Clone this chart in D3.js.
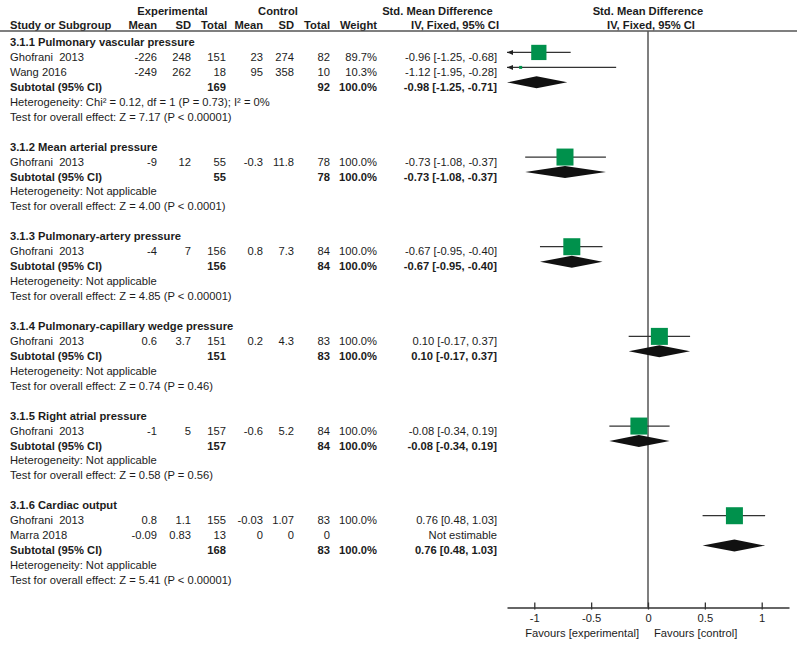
<!DOCTYPE html>
<html><head><meta charset="utf-8">
<script src="https://cdn.jsdelivr.net/npm/d3@7"></script>
<style>body{margin:0;background:#fff}svg{display:block;font-family:"Liberation Sans",Arial,sans-serif}text{white-space:pre}</style>
</head><body><svg id="c" width="800" height="645"></svg>
<script>
const groupNames = ["3.1.1 Pulmonary vascular pressure","3.1.2 Mean arterial pressure","3.1.3 Pulmonary-artery pressure","3.1.4 Pulmonary-capillary wedge pressure","3.1.5 Right atrial pressure","3.1.6 Cardiac output"];
const studyGroup = [0,0,1,2,3,4,5,5];
const studyNames = ["Ghofrani  2013","Wang 2016","Ghofrani  2013","Ghofrani  2013","Ghofrani  2013","Ghofrani  2013","Ghofrani  2013","Marra 2018"];
const expMean = [-226,-249,-9,-4,0.6,-1,0.8,-0.09];
const expSD = [248,262,12,7,3.7,5,1.1,0.83];
const expTotal = [151,18,55,156,151,157,155,13];
const ctlMean = [23,95,-0.3,0.8,0.2,-0.6,-0.03,0];
const ctlSD = [274,358,11.8,7.3,4.3,5.2,1.07,0];
const ctlTotal = [82,10,78,84,83,84,83,0];
const weight = [89.7,10.3,100,100,100,100,100,null];
const smd = [-0.96,-1.12,-0.73,-0.67,0.10,-0.08,0.76,null];
const ciLow = [-1.25,-1.95,-1.08,-0.95,-0.17,-0.34,0.48,null];
const ciHigh = [-0.68,-0.28,-0.37,-0.40,0.37,0.19,1.03,null];
const subExpTotal = [169,55,156,151,157,168];
const subCtlTotal = [92,78,84,83,84,83];
const subSmd = [-0.98,-0.73,-0.67,0.10,-0.08,0.76];
const subLow = [-1.25,-1.08,-0.95,-0.17,-0.34,0.48];
const subHigh = [-0.71,-0.37,-0.40,0.37,0.19,1.03];
const heterogeneity = ["Heterogeneity: Chi² = 0.12, df = 1 (P = 0.73); I² = 0%","Heterogeneity: Not applicable","Heterogeneity: Not applicable","Heterogeneity: Not applicable","Heterogeneity: Not applicable","Heterogeneity: Not applicable"];
const overallTest = ["Test for overall effect: Z = 7.17 (P < 0.00001)","Test for overall effect: Z = 4.00 (P < 0.0001)","Test for overall effect: Z = 4.85 (P < 0.00001)","Test for overall effect: Z = 0.74 (P = 0.46)","Test for overall effect: Z = 0.58 (P = 0.56)","Test for overall effect: Z = 5.41 (P < 0.00001)"];
const axisTicks = [-1,-0.5,0,0.5,1];
const favourLeft = "Favours [experimental]", favourRight = "Favours [control]";

const svg = d3.select("#c");
const FS = 11.2, TXT = "#1c1c1c", GREEN = "#00914c";
const x = d3.scaleLinear().domain([-1.24,1.24]).range([507,789]);
const y = d3.scaleLinear().domain([0,36]).range([42,580]);
const axisY = 607.5, MOFF = -4.5;

const rows = [];
let r = 0;
groupNames.forEach((g,gi)=>{
  rows.push({type:"group",r:r++,gi});
  studyGroup.forEach((sg,si)=>{ if(sg===gi) rows.push({type:"study",r:r++,si}); });
  rows.push({type:"sub",r:r++,gi});
  rows.push({type:"het",r:r++,gi});
  rows.push({type:"test",r:r++,gi});
  r++;
});

function txt(xp, yp, s, anchor, bold){
  svg.append("text").attr("x",xp).attr("y",yp).attr("text-anchor",anchor||"start")
    .attr("font-size",FS).attr("font-weight",bold?"bold":"normal").attr("fill",TXT).text(s);
}
const cols = [157,191,226,263,294,330,377];
const ciX = 497;
const fmt2 = v => v.toFixed(2);
const ciStr = (m,l,h) => `${fmt2(m)} [${fmt2(l)}, ${fmt2(h)}]`;

txt(172.5,15,"Experimental","middle",true);
txt(278,15,"Control","middle",true);
txt(437.5,15,"Std. Mean Difference","middle",true);
txt(648,15,"Std. Mean Difference","middle",true);
txt(10,29,"Study or Subgroup","start",true);
["Mean","SD","Total","Mean","SD","Total","Weight"].forEach((h,i)=>txt(cols[i]+(i===2?1:0),29,h,"end",true));
txt(ciX+2,29,"IV, Fixed, 95% CI","end",true);
txt(651,29,"IV, Fixed, 95% CI","middle",true);

svg.append("line").attr("x1",0).attr("x2",797).attr("y1",31).attr("y2",31).attr("stroke","#555").attr("stroke-width",1.5);
svg.append("line").attr("x1",x(0)).attr("x2",x(0)).attr("y1",31).attr("y2",axisY).attr("stroke","#555").attr("stroke-width",1.5);

const [xMin,xMax] = x.domain();
function arrow(xp, yp, dir){
  svg.append("path").attr("d",`M${xp},${yp} l${dir*6},-2.5 l0,5 z`).attr("fill","#222");
}

rows.forEach(row=>{
  const ty = y(row.r)+4, my = y(row.r)+MOFF;
  if(row.type==="group") txt(10,ty,groupNames[row.gi],"start",true);
  else if(row.type==="het") txt(10,ty,heterogeneity[row.gi]);
  else if(row.type==="test") txt(10,ty,overallTest[row.gi]);
  else if(row.type==="study"){
    const i=row.si;
    txt(10,ty,studyNames[i]);
    [expMean[i],expSD[i],expTotal[i],ctlMean[i],ctlSD[i],ctlTotal[i]].forEach((v,k)=>txt(cols[k],ty,String(v),"end"));
    if(weight[i]!=null){
      txt(cols[6],ty,weight[i].toFixed(1)+"%","end");
      txt(ciX,ty,ciStr(smd[i],ciLow[i],ciHigh[i]),"end");
      const l = Math.max(ciLow[i],xMin), h = Math.min(ciHigh[i],xMax);
      svg.append("line").attr("x1",x(l)).attr("x2",x(h)).attr("y1",my).attr("y2",my).attr("stroke","#333").attr("stroke-width",1.3);
      if(ciLow[i]<=xMin) arrow(x(xMin),my,1);
      if(ciHigh[i]>=xMax) arrow(x(xMax),my,-1);
      const s = Math.max(3,17*weight[i]/100);
      svg.append("rect").attr("x",x(smd[i])-s/2).attr("y",my-s/2).attr("width",s).attr("height",s).attr("fill",GREEN);
    } else {
      txt(ciX,ty,"Not estimable","end");
    }
  } else if(row.type==="sub"){
    const g=row.gi;
    txt(10,ty,"Subtotal (95% CI)","start",true);
    txt(cols[2],ty,String(subExpTotal[g]),"end",true);
    txt(cols[5],ty,String(subCtlTotal[g]),"end",true);
    txt(cols[6],ty,"100.0%","end",true);
    txt(ciX,ty,ciStr(subSmd[g],subLow[g],subHigh[g]),"end",true);
    const l = Math.max(subLow[g],xMin), h = Math.min(subHigh[g],xMax);
    svg.append("path").attr("d",`M${x(l)},${my} L${x(subSmd[g])},${my-6} L${x(h)},${my} L${x(subSmd[g])},${my+6} Z`).attr("fill","#111");
  }
});

const ax = svg.append("g").attr("transform",`translate(0,${axisY})`)
  .call(d3.axisBottom(x).tickValues(axisTicks).tickSizeInner(-5).tickSizeOuter(0).tickPadding(6.5).tickFormat(d=>String(d)));
ax.select(".domain").attr("stroke","#333").attr("stroke-width",1.3);
ax.selectAll(".tick line").attr("stroke","#333").attr("stroke-width",1.3).attr("y1",2).attr("y2",-5);
ax.selectAll(".tick text").attr("font-size",FS).attr("fill",TXT).attr("font-family",null);
txt(639,637,favourLeft,"end");
txt(654,637,favourRight,"start");
</script></body></html>
